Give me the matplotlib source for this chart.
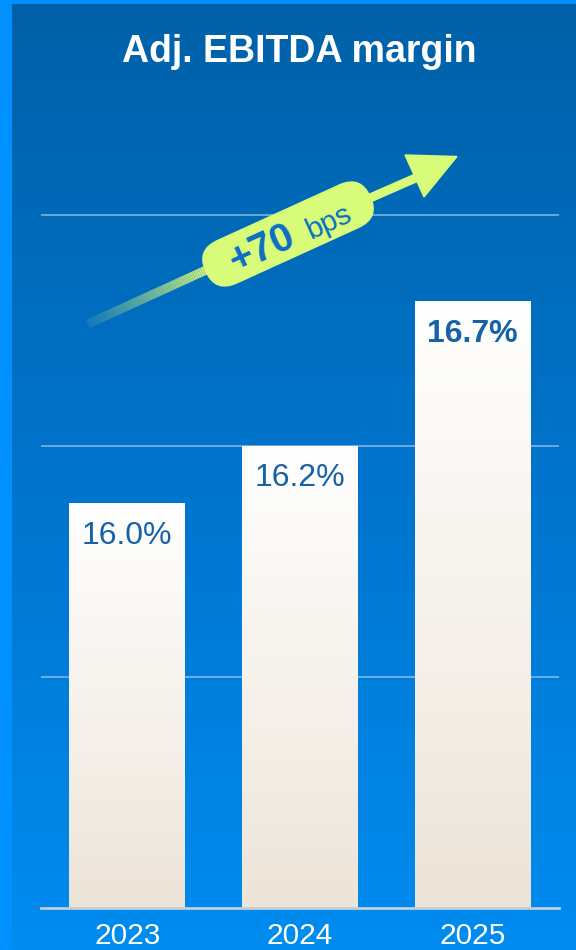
import numpy as np
import matplotlib
matplotlib.use("Agg")
import matplotlib.pyplot as plt
from matplotlib.transforms import Affine2D
from matplotlib.patches import FancyBboxPatch, Polygon, Rectangle
from matplotlib.collections import LineCollection
from matplotlib.colors import LinearSegmentedColormap

plt.rcParams['font.family'] = ['Liberation Sans', 'DejaVu Sans']

# ---- data ----
years = ["2023", "2024", "2025"]
margins = [16.0, 16.2, 16.7]
value_labels = ["16.0%", "16.2%", "16.7%"]
bold_flags = [False, False, True]
title = "Adj. EBITDA margin"
change_big = "+70"
change_small = "bps"

W, H = 576, 950
fig = plt.figure(figsize=(W / 100, H / 100), dpi=100)

# background
bg = fig.add_axes([0, 0, 1, 1], zorder=-10)
bg.set_xlim(0, W); bg.set_ylim(0, H); bg.axis('off')
bg.add_patch(Rectangle((0, 0), W, H, color='#0090ff', zorder=0))
bg_cmap = LinearSegmentedColormap.from_list('bg', ['#008cf0', '#0074cc', '#0061a8'])
grad = np.linspace(0, 1, 256).reshape(-1, 1)
bg.imshow(grad, cmap=bg_cmap, origin='lower', extent=[12, W, 0, H - 4], aspect='auto', zorder=1)

# main axes
x0, x1 = 41, 559
ybase = 908
ppu = 288.75
ymin = 14.6
ymax = 17.4
top_px = ybase - (ymax - ymin) * ppu
ax = fig.add_axes([x0 / W, (H - ybase) / H, (x1 - x0) / W, (ybase - top_px) / H])
ax.patch.set_alpha(0)
ax.set_xlim(-0.5, 2.5)
ax.set_ylim(ymin, ymax)
for s in ax.spines.values():
    s.set_visible(False)
ax.set_yticks([])
xs = np.arange(len(years))
ax.set_xticks(xs)
ax.set_xticklabels(years, color='white', fontsize=21.5)
ax.tick_params(axis='x', length=0, pad=10)

for g in [15.4, 16.2, 17.0]:
    ax.axhline(g, color='#9cc4e8', lw=1.3, alpha=0.75, zorder=1)
ax.axhline(ymin, color='#c4ccd6', lw=2.0, zorder=4, clip_on=False)

bars = ax.bar(xs, margins, width=0.67, bottom=0, color='none', zorder=2)
bar_cmap = LinearSegmentedColormap.from_list('bar', ['#ede4d8', '#f6f2ec', '#ffffff'])
for b, lab, bf in zip(bars, value_labels, bold_flags):
    bx = b.get_x(); bw = b.get_width(); bh = b.get_height()
    im = ax.imshow(grad, cmap=bar_cmap, origin='lower', aspect='auto',
                   extent=[bx, bx + bw, ymin, bh], zorder=3)
    ax.annotate(lab, (bx + bw / 2, bh), xytext=(0, -32 * 0.72), textcoords='offset points',
                ha='center', va='center', fontsize=23, color='#1662a6',
                fontweight='bold' if bf else 'normal', zorder=5)
ax.set_xlim(-0.5, 2.5)
ax.set_ylim(ymin, ymax)

# title
fig.text(299 / W, 1 - 52 / H, title, ha='center', va='center', color='white',
         fontsize=27, fontweight='bold')

# arrow annotation (pixel frame, y up)
pix = Affine2D().scale(1 / W, 1 / H) + fig.transFigure
lime = np.array([217, 251, 122]) / 255
def P(x, y):
    return (x, H - y)

start = np.array(P(88, 324))
fade_end = np.array(P(215, 266))
base = np.array(P(414, 176))
n = 60
pts = np.linspace(start, fade_end, n + 1)
segs = [[pts[i], pts[i + 1]] for i in range(n)]
cols = [(*lime, 0.1 + 0.9 * (i / n) ** 1.1) for i in range(n)]
lc = LineCollection(segs, colors=cols, linewidths=6.5, capstyle='butt', transform=pix, zorder=5)
fig.add_artist(lc)
fig.add_artist(plt.Line2D([fade_end[0], base[0] + 3], [fade_end[1], base[1] - 1.4],
                          color=lime, lw=6.5, solid_capstyle='butt', transform=pix, zorder=5))
head = Polygon([P(405, 155), P(457, 156.5), P(424, 197)], closed=True, color=lime,
               transform=pix, zorder=6)
fig.add_artist(head)

ang = 24.5
cx, cy = P(288, 234)
L, T = 182, 48
pill = FancyBboxPatch((-L / 2, -T / 2), L, T, boxstyle=f"round,pad=0,rounding_size={T/2}",
                      fc=lime, ec='none',
                      transform=Affine2D().rotate_deg(ang).translate(cx, cy) + pix, zorder=7)
fig.add_artist(pill)

c, s = np.cos(np.radians(ang)), np.sin(np.radians(ang))
def local(a, b):
    return (cx + a * c - b * s, cy + a * s + b * c)

p1 = local(-30, -14)
p2 = local(42, -14)
fig.text(p1[0] / W, p1[1] / H, change_big, rotation=ang, rotation_mode='anchor',
         ha='center', va='baseline', fontsize=29, fontweight='bold', color='#0b6ec6', zorder=8)
fig.text(p2[0] / W, p2[1] / H, change_small, rotation=ang, rotation_mode='anchor',
         ha='center', va='baseline', fontsize=21, color='#0b6ec6', zorder=8)

fig.savefig('out.png', dpi=100)
